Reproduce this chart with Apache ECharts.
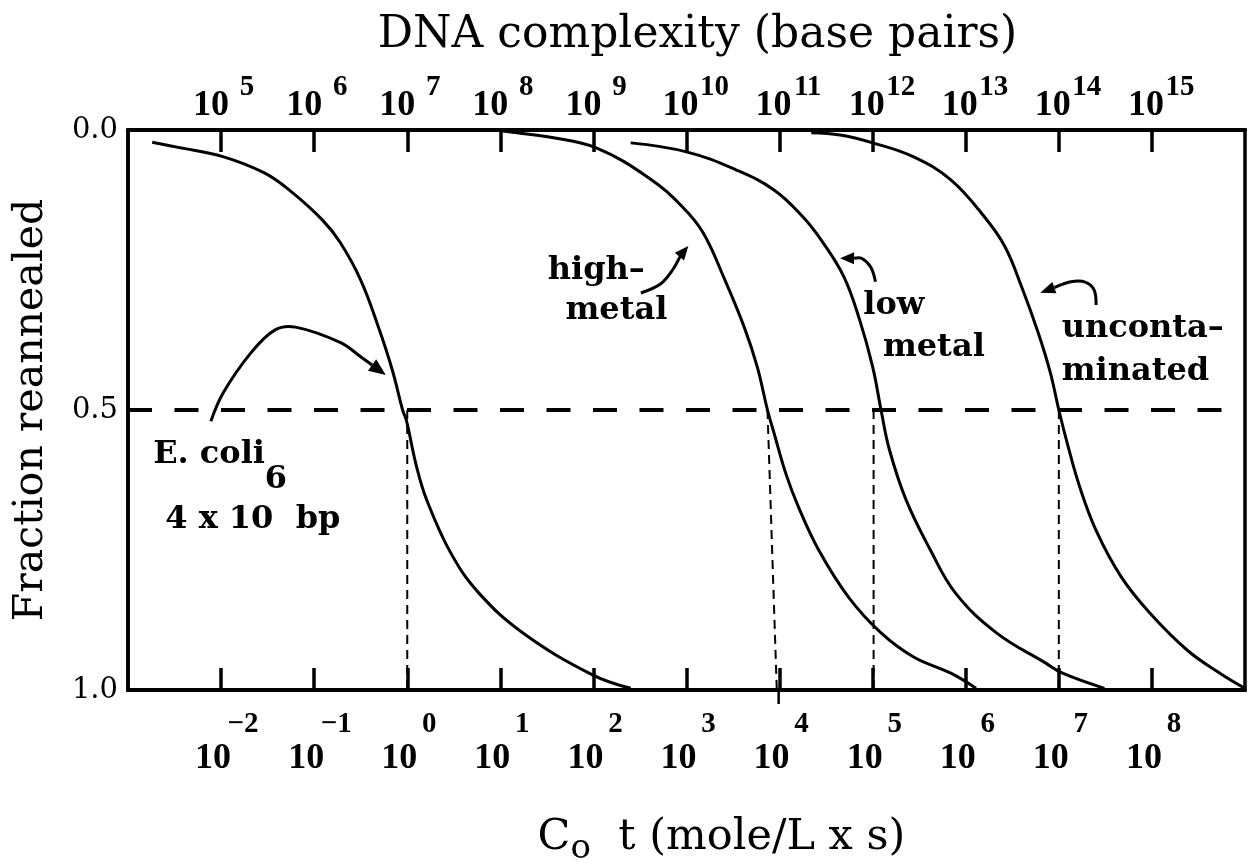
<!DOCTYPE html>
<html lang="en">
<head>
<meta charset="UTF-8">
<title>DNA reassociation (Cot) curves</title>
<style>
    html, body { margin: 0; padding: 0; background: #fff; }
    #chart { width: 1248px; height: 865px; }
</style>
</head>
<body>
<div id="chart"></div>
<script src="https://cdn.jsdelivr.net/npm/echarts@6/dist/echarts.min.js"></script>
<script>
    // x = log10(Co t), y = fraction reannealed (0 at the top)
    const cotTicks = [-2, -1, 0, 1, 2, 3, 4, 5, 6, 7, 8];
    const cotExponents = ['\u22122', '\u22121', '0', '1', '2', '3', '4', '5', '6', '7', '8'];
    const complexityExponents = ['5', '6', '7', '8', '9', '10', '11', '12', '13', '14', '15'];
    const fractionTicks = [0, 0.5, 1];

    const ecoliCurve = [
        [-2.74, 0.022], [-2.46, 0.031], [-1.99, 0.047], [-1.53, 0.077], [-1.24, 0.111],
        [-0.91, 0.161], [-0.72, 0.201], [-0.50, 0.268], [-0.31, 0.352], [-0.16, 0.429],
        [-0.05, 0.5], [-0.01, 0.518], [0.10, 0.601], [0.21, 0.661], [0.47, 0.756],
        [0.77, 0.827], [1.25, 0.899], [1.99, 0.973], [2.40, 0.997]
    ];
    const highMetalCurve = [
        [1.03, 0.002], [1.18, 0.005], [1.54, 0.013], [2.03, 0.032], [2.60, 0.086],
        [2.96, 0.138], [3.18, 0.184], [3.40, 0.263], [3.62, 0.352], [3.76, 0.423],
        [3.87, 0.5], [3.94, 0.541], [4.07, 0.615], [4.20, 0.672], [4.42, 0.75],
        [4.74, 0.834], [5.09, 0.898], [5.44, 0.941], [5.84, 0.970], [6.11, 0.997]
    ];
    const lowMetalCurve = [
        [2.40, 0.023], [3.00, 0.039], [3.53, 0.071], [3.94, 0.107], [4.25, 0.155],
        [4.47, 0.202], [4.69, 0.262], [4.86, 0.339], [5.00, 0.423], [5.09, 0.5],
        [5.18, 0.571], [5.36, 0.661], [5.62, 0.75], [5.89, 0.827], [6.33, 0.898],
        [6.86, 0.952], [7.04, 0.970], [7.49, 0.997]
    ];
    const uncontaminatedCurve = [
        [4.34, 0.005], [4.65, 0.009], [5.00, 0.023], [5.44, 0.048], [5.84, 0.089],
        [6.20, 0.155], [6.42, 0.208], [6.60, 0.280], [6.78, 0.363], [6.91, 0.434],
        [7.00, 0.5], [7.09, 0.559], [7.22, 0.635], [7.40, 0.715], [7.67, 0.798],
        [7.98, 0.863], [8.38, 0.929], [8.73, 0.970], [9.00, 0.997]
    ];

    // half-reannealing guide and the drop lines to the Cot axis
    const halfLine = [[-3, 0.5], [9, 0.5]];
    const ecoliDrop = [[0, 0.5], [0, 1]];
    const highMetalDrop = [[3.87, 0.5], [3.97, 1]];
    const highMetalStub = [[3.99, 1], [3.99, 1.025]];
    const lowMetalDrop = [[5.01, 0.5], [5.01, 1]];
    const uncontaminatedDrop = [[7.0, 0.5], [7.0, 1]];

    // annotation arrows, in data units (last point is the tip)
    const ecoliArrow = [[-2.11, 0.520], [-1.98, 0.470], [-1.68, 0.398], [-1.42, 0.357], [-1.20, 0.352], [-0.71, 0.380], [-0.50, 0.405], [-0.23, 0.4375]];
    const highMetalArrow = [[2.51, 0.291], [2.72, 0.275], [2.85, 0.250], [2.94, 0.223], [3.02, 0.207]];
    const lowMetalArrow = [[5.03, 0.271], [4.98, 0.245], [4.88, 0.229], [4.65, 0.229]];
    const uncontaminatedArrow = [[7.40, 0.3125], [7.38, 0.286], [7.29, 0.272], [7.13, 0.271], [6.80, 0.2905]];

    const notes = [
        {text: 'high\u2013', at: [1.51, 0.252]},
        {text: 'metal', at: [1.70, 0.323]},
        {text: 'low', at: [4.90, 0.314]},
        {text: 'metal', at: [5.11, 0.389]},
        {text: 'unconta\u2013', at: [7.03, 0.355]},
        {text: 'minated', at: [7.03, 0.432]},
        {text: 'E. coli', at: [-2.73, 0.580]},
        {text: '6', at: [-1.53, 0.625]},
        {text: '4 x 10  bp', at: [-2.60, 0.696]}
    ];

    const serif = '"DejaVu Serif", serif';
    const numFont = '"Liberation Serif", serif';
    const numStyle = (size, lh, pad) => ({fontFamily: numFont, fontWeight: 'bold', fontSize: size, lineHeight: lh, color: '#000', padding: pad});

    function curve(data) {
        return {
            type: 'line', data: data, smooth: 0.4, symbol: 'none', silent: true, z: 3,
            lineStyle: {color: '#000', width: 3}
        };
    }
    function dashed(data, width, dash, clip) {
        return {
            type: 'line', data: data, symbol: 'none', silent: true, z: 2, clip: clip !== false,
            lineStyle: {color: '#000', width: width, type: dash}
        };
    }

    const chart = echarts.init(document.getElementById('chart'), null, {renderer: 'canvas'});
    const option = {
        animation: false,
        backgroundColor: '#fff',
        grid: {left: 128, right: 3, top: 130, bottom: 175, outerBoundsMode: 'none',
            show: true, borderColor: '#000', borderWidth: 3.5},
        xAxis: [{
            type: 'value', position: 'bottom', min: -3, max: 9, interval: 1,
            axisLine: {show: true, onZero: false, lineStyle: {color: '#000', width: 4}},
            axisTick: {show: true, inside: true, length: 22, customValues: cotTicks,
                lineStyle: {color: '#000', width: 3.5}},
            splitLine: {show: false},
            axisLabel: {
                customValues: cotTicks, margin: 18, color: '#000',
                showMinLabel: true, showMaxLabel: true, hideOverlap: false,
                formatter: v => '{e|' + cotExponents[cotTicks.indexOf(v)] + '}\n{b|10}',
                rich: {
                    e: numStyle(29, 34, [0, 0, 0, 44]),
                    b: numStyle(36, 34, [0, 16, 0, 0])
                }
            },
            name: '{c|C}{o|o}{t|  t (mole/L x s)}',
            nameLocation: 'middle', nameGap: 126,
            nameTextStyle: {
                padding: [0, 0, 0, 70],
                rich: {
                    c: {fontFamily: serif, fontSize: 43, lineHeight: 50, color: '#000', verticalAlign: 'top'},
                    o: {fontFamily: serif, fontSize: 34, lineHeight: 40, color: '#000', verticalAlign: 'bottom', padding: [25, 0, 0, 0]},
                    t: {fontFamily: serif, fontSize: 43, lineHeight: 50, color: '#000', verticalAlign: 'top'}
                }
            }
        }, {
            type: 'value', position: 'top', min: -3, max: 9, interval: 1,
            axisLine: {show: true, onZero: false, lineStyle: {color: '#000', width: 4}},
            axisTick: {show: true, inside: true, length: 22, customValues: cotTicks,
                lineStyle: {color: '#000', width: 3.5}},
            splitLine: {show: false},
            axisLabel: {
                customValues: cotTicks, margin: 13, color: '#000',
                showMinLabel: true, showMaxLabel: true, hideOverlap: false,
                formatter: v => {
                    const e = complexityExponents[cotTicks.indexOf(v)];
                    return e.length > 1 ? '{s2|' + e + '}\n{b2|10}' : '{s1|' + e + '}\n{b1|10}';
                },
                rich: {
                    s1: numStyle(29, 14, [0, 0, 0, 52]),
                    b1: numStyle(36, 22, [0, 20, 0, 0]),
                    s2: numStyle(29, 14, [0, 0, 0, 56]),
                    b2: numStyle(36, 22, [0, 12, 0, 0])
                }
            },
            name: 'DNA complexity (base pairs)',
            nameLocation: 'middle', nameGap: 72,
            nameTextStyle: {fontFamily: serif, fontSize: 44, color: '#000', padding: [0, 0, 0, 22]}
        }],
        yAxis: {
            type: 'value', inverse: true, min: 0, max: 1, interval: 0.5,
            axisLine: {show: true, onZero: false, lineStyle: {color: '#000', width: 3.5}},
            axisTick: {show: false},
            splitLine: {show: false},
            axisLabel: {
                customValues: fractionTicks, margin: 10, color: '#000',
                fontFamily: serif, fontSize: 29, formatter: v => v.toFixed(1)
            },
            name: 'Fraction reannealed', nameLocation: 'middle', nameGap: 76,
            nameTextStyle: {fontFamily: serif, fontSize: 41, color: '#000'}
        },
        series: [
            dashed(halfLine, 4, [24, 22.5]),
            dashed(ecoliDrop, 2, [9, 6]),
            dashed(highMetalDrop, 2, [9, 6]),
            dashed(highMetalStub, 2.5, 'solid', false),
            dashed(lowMetalDrop, 2, [9, 6]),
            dashed(uncontaminatedDrop, 2, [9, 6]),
            curve(ecoliCurve),
            curve(highMetalCurve),
            curve(lowMetalCurve),
            curve(uncontaminatedCurve)
        ]
    };
    chart.setOption(option);

    /* arrows and labels placed through the chart's own scales */
    const px = p => chart.convertToPixel({xAxisIndex: 0, yAxisIndex: 0}, p);
    function arrow(path, headLen, headHalf) {
        const pts = path.map(px);
        const tip = pts[pts.length - 1];
        const prev = pts[pts.length - 2];
        const dx = tip[0] - prev[0], dy = tip[1] - prev[1];
        const d = Math.sqrt(dx * dx + dy * dy);
        const ux = dx / d, uy = dy / d;
        const base = [tip[0] - ux * headLen, tip[1] - uy * headLen];
        const shaft = pts.slice(0, -1).concat([base]);
        return [{
            type: 'polyline', silent: true, z: 10,
            shape: {points: shaft, smooth: 0.35},
            style: {stroke: '#000', lineWidth: 3, fill: null}
        }, {
            type: 'polygon', silent: true, z: 10,
            shape: {points: [tip, [base[0] - uy * headHalf, base[1] + ux * headHalf], [base[0] + uy * headHalf, base[1] - ux * headHalf]]},
            style: {fill: '#000'}
        }];
    }
    const elements = []
        .concat(arrow(ecoliArrow, 17, 7))
        .concat(arrow(highMetalArrow, 14, 6))
        .concat(arrow(lowMetalArrow, 14, 6))
        .concat(arrow(uncontaminatedArrow, 15, 6));
    for (let n of notes) {
        const p = px(n.at);
        elements.push({
            type: 'text', silent: true, z: 10, x: p[0], y: p[1],
            style: {text: n.text, fill: '#000', font: 'bold 32px ' + serif, textAlign: 'left', textVerticalAlign: 'middle'}
        });
    }
    chart.setOption({graphic: {elements: elements}});
</script>
</body>
</html>
